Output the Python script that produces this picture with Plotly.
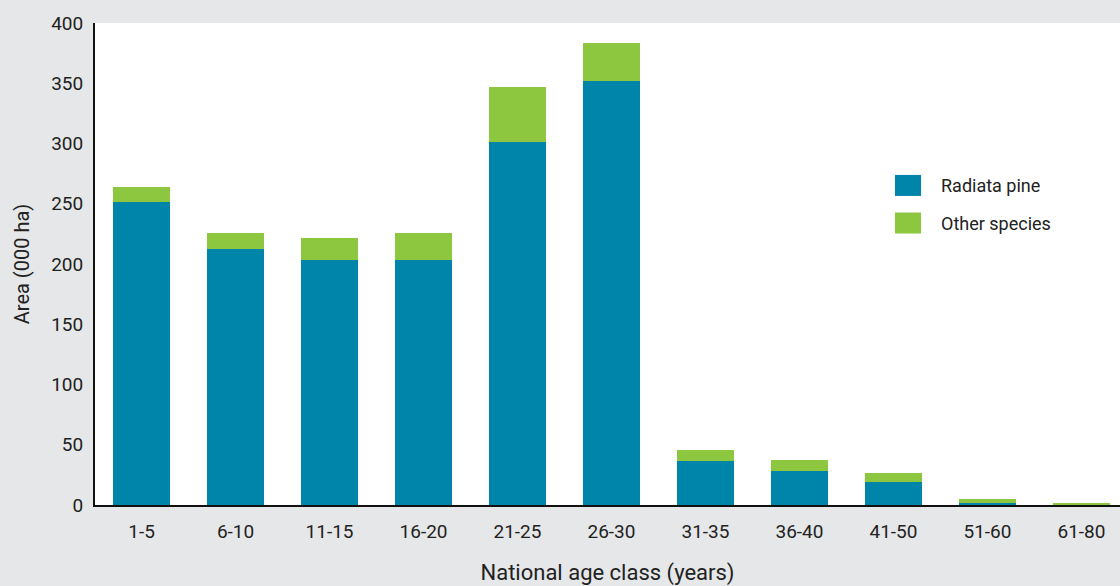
import plotly.graph_objects as go

categories = ["1-5", "6-10", "11-15", "16-20", "21-25", "26-30", "31-35", "36-40", "41-50", "51-60", "61-80"]
radiata_pine = [251.5, 212.5, 203.5, 203.5, 301.5, 352.0, 36.5, 28.5, 19.0, 1.7, 0.4]
other_species = [12.5, 13.0, 18.0, 22.0, 45.5, 31.5, 9.0, 9.0, 7.5, 3.3, 1.1]
y_ticks = [0, 50, 100, 150, 200, 250, 300, 350, 400]

BLUE = "#0085AA"
GREEN = "#8DC63F"
BG = "#E6E7E8"
TXT = "#222222"
FONT = "Roboto"

fig = go.Figure()
fig.add_trace(go.Bar(x=categories, y=radiata_pine, name="Radiata pine",
                     marker=dict(color=BLUE, line=dict(width=0)), showlegend=False))
fig.add_trace(go.Bar(x=categories, y=other_species, name="Other species",
                     marker=dict(color=GREEN, line=dict(width=0)), showlegend=False))

# legend drawn as boxes + labels
legend_items = [("Radiata pine", BLUE, 0.0), ("Other species", GREEN, 1.0)]
for label, col, i in legend_items:
    y0 = 0.663 - i * 0.078
    fig.add_shape(type="rect", xref="paper", yref="paper",
                  x0=0.7805, x1=0.8059, y0=y0 - 0.0218, y1=y0 + 0.0218,
                  fillcolor=col, line=dict(width=0))
    fig.add_annotation(xref="paper", yref="paper", x=0.8235, y=y0, text=label,
                       showarrow=False, xanchor="left", yanchor="middle",
                       font=dict(family=FONT, size=18, color=TXT))

fig.update_layout(
    barmode="stack",
    bargap=0.394,
    width=1120, height=586,
    margin=dict(l=95, r=0, t=23, b=81),
    paper_bgcolor=BG,
    plot_bgcolor="white",
    font=dict(family=FONT, size=19, color=TXT),
    xaxis=dict(
        range=[-0.495, 10.41],
        showline=True, linecolor="#111111", linewidth=2,
        ticks="", showgrid=False, zeroline=False,
        ticklabelstandoff=8,
        tickfont=dict(size=19, color=TXT),
        title=dict(text="National age class (years)", font=dict(size=22, color=TXT), standoff=24),
    ),
    yaxis=dict(
        range=[0, 400],
        tickvals=y_ticks,
        showline=True, linecolor="#111111", linewidth=2,
        ticks="", showgrid=False, zeroline=False,
        ticklabelstandoff=6,
        tickfont=dict(size=19, color=TXT),
        title=dict(text="Area (000 ha)", font=dict(size=20, color=TXT), standoff=16),
    ),
)

fig.write_html("out.html", config={"displayModeBar": False},
               post_script="document.body.style.margin='0';document.body.style.overflow='hidden';")
